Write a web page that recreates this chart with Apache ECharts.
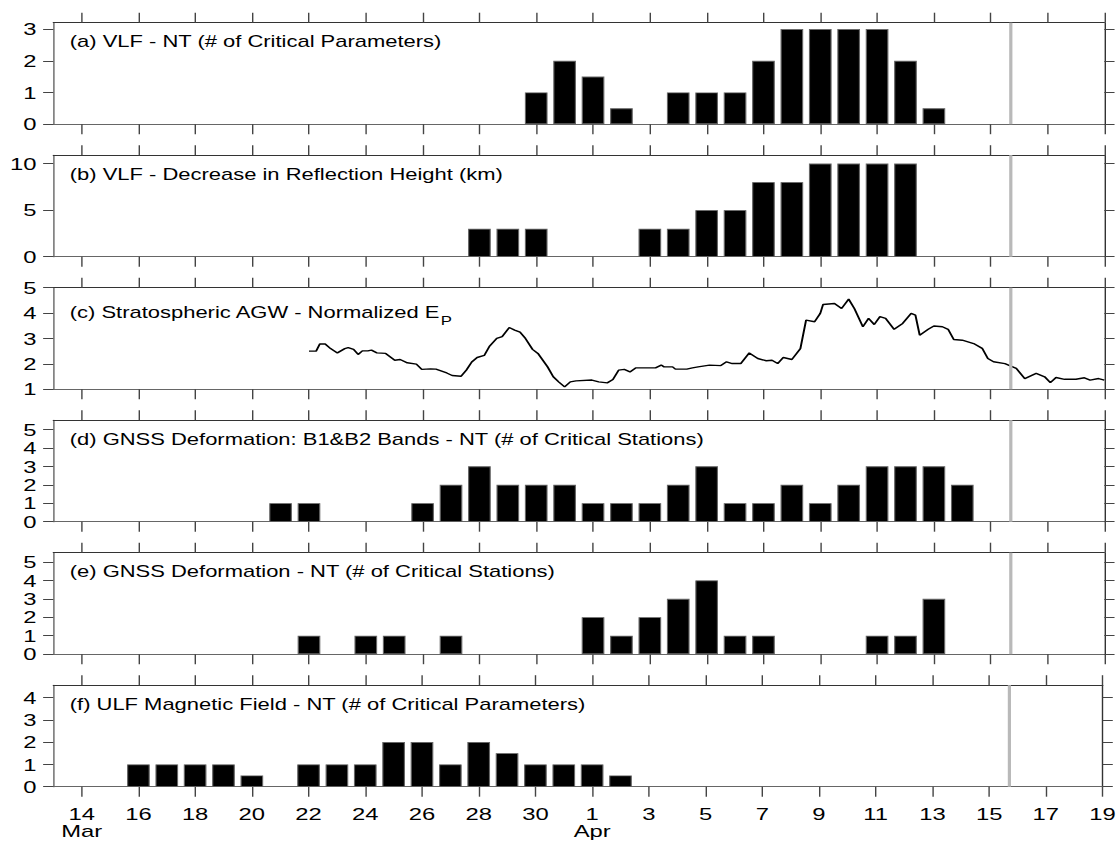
<!DOCTYPE html>
<html>
<head>
<meta charset="utf-8">
<script src="https://cdn.jsdelivr.net/npm/echarts@6/dist/echarts.min.js"></script>
<style>
  html, body { margin: 0; padding: 0; background: #fff; overflow: hidden; }
  /* the figure is laid out at 800 px and widened 1.4x, giving its broad lettering */
  #chart { width: 800px; height: 845px; transform: scaleX(1.4); transform-origin: 0 0; }
</style>
</head>
<body>
<div id="chart"></div>
<script>
// Time axis: day index 0 = 13 Mar 00:00 UT, 37 = 19 Apr 00:00 UT
const startMonthDays = 31;          // March
const firstDay = 13;                // 13 Mar
const lastIndex = 37;               // 19 Apr
const quakeDay = 33.68;             // 15 Apr 16:25 UT

// (a) VLF - NT
const vlfNtDates  = ['03-30','03-31','04-01','04-02','04-04','04-05','04-06','04-07','04-08','04-09','04-10','04-11','04-12','04-13'];
const vlfNtValues = [1, 2, 1.5, 0.5, 1, 1, 1, 2, 3, 3, 3, 3, 2, 0.5];

// (b) VLF - decrease in reflection height (km)
const vlfHeightDates  = ['03-28','03-29','03-30','04-03','04-04','04-05','04-06','04-07','04-08','04-09','04-10','04-11','04-12'];
const vlfHeightValues = [3, 3, 3, 3, 3, 5, 5, 8, 8, 10, 10, 10, 10];

// (c) Stratospheric AGW - normalized Ep (day index, value)
const agwDay = [9.0, 9.25, 9.38, 9.57, 9.76, 10.0, 10.26, 10.38, 10.57, 10.73, 10.88, 11.07, 11.2, 11.39, 11.7,
  12.02, 12.21, 12.46, 12.78, 12.97, 13.28, 13.47, 13.85, 14.04, 14.35, 14.54, 14.73, 14.92, 15.17, 15.36,
  15.61, 15.8, 16.05, 16.24, 16.43, 16.62, 16.87, 17.06, 17.4, 17.6, 17.8, 18.0, 18.2, 18.4, 18.96, 19.2,
  19.5, 19.7, 19.9, 20.1, 20.3, 20.5, 20.9, 21.2, 21.4, 21.5, 21.8, 21.9, 22.3, 22.5, 22.7, 23.1, 23.5,
  23.7, 23.9, 24.2, 24.5, 24.8, 25.1, 25.3, 25.5, 25.7, 26.0, 26.3, 26.5, 26.8, 27.0, 27.1, 27.5, 27.75,
  28.0, 28.2, 28.5, 28.7, 28.9, 29.1, 29.3, 29.6, 29.9, 30.2, 30.35, 30.5, 30.8, 31.0, 31.3, 31.5, 31.7,
  32.0, 32.4, 32.7, 32.9, 33.1, 33.5, 33.9, 34.2, 34.6, 34.9, 35.1, 35.3, 35.6, 36.0, 36.3, 36.5, 36.8, 37.0];
const agwEp = [2.5, 2.5, 2.78, 2.78, 2.6, 2.43, 2.6, 2.64, 2.57, 2.37, 2.51, 2.51, 2.54, 2.43, 2.41,
  2.14, 2.17, 2.04, 1.99, 1.78, 1.8, 1.79, 1.64, 1.54, 1.51, 1.75, 2.07, 2.25, 2.33, 2.7,
  3.0, 3.07, 3.43, 3.33, 3.25, 3.0, 2.57, 2.41, 1.88, 1.49, 1.28, 1.09, 1.29, 1.33, 1.36, 1.29,
  1.25, 1.38, 1.75, 1.78, 1.68, 1.84, 1.84, 1.84, 1.95, 1.88, 1.88, 1.79, 1.79, 1.84, 1.88, 1.95, 1.93,
  2.08, 2.01, 2.01, 2.43, 2.21, 2.12, 2.14, 2.01, 2.25, 2.17, 2.6, 3.72, 3.66, 3.99, 4.34, 4.38, 4.18,
  4.55, 4.18, 3.46, 3.79, 3.55, 3.86, 3.79, 3.36, 3.59, 3.99, 3.92, 3.13, 3.36, 3.49, 3.46, 3.36, 2.96,
  2.93, 2.8, 2.61, 2.21, 2.08, 2.01, 1.82, 1.42, 1.62, 1.49, 1.26, 1.46, 1.39, 1.39, 1.45, 1.36, 1.42, 1.36];

// (d) GNSS deformation, B1&B2 bands - NT
const gnssBandDates  = ['03-21','03-22','03-26','03-27','03-28','03-29','03-30','03-31','04-01','04-02','04-03',
  '04-04','04-05','04-06','04-07','04-08','04-09','04-10','04-11','04-12','04-13','04-14'];
const gnssBandValues = [1, 1, 1, 2, 3, 2, 2, 2, 1, 1, 1, 2, 3, 1, 1, 2, 1, 2, 3, 3, 3, 2];

// (e) GNSS deformation - NT
const gnssDates  = ['03-22','03-24','03-25','03-27','04-01','04-02','04-03','04-04','04-05','04-06','04-07','04-11','04-12','04-13'];
const gnssValues = [1, 1, 1, 1, 2, 1, 2, 3, 4, 1, 1, 1, 1, 3];

// (f) ULF magnetic field - NT
const ulfDates  = ['03-16','03-17','03-18','03-19','03-20','03-22','03-23','03-24','03-25','03-26','03-27',
  '03-28','03-29','03-30','03-31','04-01','04-02'];
const ulfValues = [1, 1, 1, 1, 0.5, 1, 1, 1, 2, 2, 1, 2, 1.5, 1, 1, 1, 0.5];

// Panel titles and y-axis settings
const panelTitles = [
  '(a) VLF - NT (# of Critical Parameters)',
  '(b) VLF - Decrease in Reflection Height (km)',
  '(c) Stratospheric AGW - Normalized E{sub|P}',
  '(d) GNSS Deformation: B1&B2 Bands - NT (# of Critical Stations)',
  '(e) GNSS Deformation - NT (# of Critical Stations)',
  '(f) ULF Magnetic Field - NT (# of Critical Parameters)'
];
const yMin   = [0, 0, 1, 0, 0, 0];
const yMax   = [3.2, 10.9, 5, 5.5, 5.5, 4.55];
const yTicks = [[0, 1, 2, 3], [0, 5, 10], [1, 2, 3, 4, 5], [0, 1, 2, 3, 4, 5], [0, 1, 2, 3, 4, 5], [0, 1, 2, 3, 4]];

// Odd day indices: 14 Mar, 16 Mar, ... 19 Apr
const xTicks = [];
for (let i = 1; i <= lastIndex; i += 2) xTicks.push(i);

function dayIndex(mmdd) {
  const [m, d] = mmdd.split('-').map(Number);
  return m === 3 ? d - firstDay : startMonthDays - firstDay + d;
}
function dayLabel(idx) {
  const d = firstDay + idx;
  if (d <= startMonthDays) return d === 14 ? '14\nMar' : String(d);
  const a = d - startMonthDays;
  return a === 1 ? '1\nApr' : String(a);
}
function pairs(dates, values) {
  return dates.map((t, i) => [dayIndex(t), values[i]]);
}

const FONT = 'Liberation Sans, Arial, sans-serif';
const AX_DARK = '#333', AX_SOFT = '#666';
const gridLeft = 38.1, gridRight = 11.2, firstTop = 22.7, panelH = 101.5, panelStep = 132.5;

const grids = [], xAxes = [], yAxes = [], series = [], titles = [];
const quakeLine = {
  silent: true, symbol: 'none', label: { show: false },
  lineStyle: { color: '#b9b9b9', width: 2.3, type: 'solid' },
  data: [{ xAxis: quakeDay }]
};

for (let p = 0; p < 6; p++) {
  const top = firstTop + p * panelStep;
  grids.push({ left: gridLeft, right: gridRight, top: top, height: panelH });
  const xBase = (color) => ({
    gridIndex: p, type: 'value', min: 0, max: lastIndex,
    axisLine: { show: true, onZero: false, lineStyle: { color: color, width: 1 } },
    axisTick: { show: true, inside: false, length: 10, customValues: xTicks, lineStyle: { color: '#444' } },
    splitLine: { show: false }
  });
  xAxes.push(Object.assign(xBase(AX_SOFT), {
    position: 'bottom',
    axisLabel: {
      show: p === 5, customValues: xTicks, formatter: v => dayLabel(v),
      fontFamily: FONT, fontSize: 17, color: '#000', margin: 19, lineHeight: 17
    }
  }));
  xAxes.push(Object.assign(xBase(AX_DARK), { position: 'top', axisLabel: { show: false } }));
  const yBase = (color) => ({
    gridIndex: p, type: 'value', min: yMin[p], max: yMax[p],
    axisLine: { show: true, onZero: false, lineStyle: { color: color, width: 1 } },
    axisTick: { show: true, inside: false, length: 7.3, customValues: yTicks[p], lineStyle: { color: '#444' } },
    splitLine: { show: false }
  });
  yAxes.push(Object.assign(yBase(AX_SOFT), {
    position: 'left',
    axisLabel: { show: true, customValues: yTicks[p], fontFamily: FONT, fontSize: 17, color: '#000', margin: 12 }
  }));
  yAxes.push(Object.assign(yBase(AX_DARK), { position: 'right', axisLabel: { show: false } }));

  titles.push({
    text: panelTitles[p], left: 44.8, top: top + (p === 2 ? 5 : 6),
    textStyle: {
      fontFamily: FONT, fontSize: 15.7, fontWeight: 'normal', color: '#000',
      rich: { sub: { fontFamily: FONT, fontSize: 12, verticalAlign: 'bottom', lineHeight: 29 } }
    }
  });
}

const barStyle = { color: '#000', borderColor: '#666', borderWidth: 0.8 };
const barSets = [
  [0, vlfNtDates, vlfNtValues],
  [1, vlfHeightDates, vlfHeightValues],
  [3, gnssBandDates, gnssBandValues],
  [4, gnssDates, gnssValues],
  [5, ulfDates, ulfValues]
];
barSets.forEach(([p, d, v]) => {
  series.push({
    type: 'bar', xAxisIndex: 2 * p, yAxisIndex: 2 * p,
    data: pairs(d, v), barWidth: 16.2, itemStyle: barStyle,
    markLine: quakeLine, animation: false
  });
});
series.push({
  type: 'line', xAxisIndex: 4, yAxisIndex: 4,
  data: agwDay.map((t, i) => [t, agwEp[i]]),
  showSymbol: false, symbol: 'none', smooth: false,
  lineStyle: { color: '#000', width: 1.4 },
  markLine: quakeLine, animation: false
});

const chart = echarts.init(document.getElementById('chart'), null, { renderer: 'svg' });
chart.setOption({
  backgroundColor: '#fff',
  animation: false,
  title: titles,
  grid: grids,
  xAxis: xAxes,
  yAxis: yAxes,
  series: series
});
</script>
</body>
</html>
